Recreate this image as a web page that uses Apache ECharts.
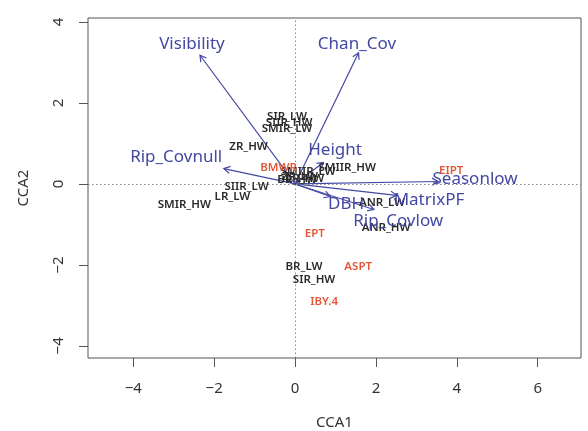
<!DOCTYPE html>
<html><head><meta charset="utf-8">
<script src="https://cdn.jsdelivr.net/npm/echarts@6/dist/echarts.min.js"></script>
<style>html,body{margin:0;padding:0;background:#fff}#c{width:588px;height:431px}</style>
</head><body><div id="c"></div>
<script>
// Biplot arrows (environmental variables)
const arrowNames = ['Visibility','Chan_Cov','Rip_Covnull','Height','Seasonlow','MatrixPF','DBH','Rip_Covlow'];
const arrowX = [-2.35, 1.57, -1.76, 0.70, 3.54, 2.51, 0.87, 1.95];
const arrowY = [3.18, 3.24, 0.38, 0.53, 0.06, -0.28, -0.31, -0.63];
const arrowLabelX = [-2.55, 1.53, -2.94, 0.99, 4.45, 3.31, 1.26, 2.55];
const arrowLabelY = [3.46, 3.46, 0.65, 0.84, 0.13, -0.41, -0.51, -0.92];
// Sites (black)
const siteNames = ['SIR_LW','SIIR_HW','SMIR_LW','ZR_HW','SMIIR_HW','SMIIR_LW','ZR_LW','BR_HW','LR_HW','SIIR_LW','LR_LW','SMIR_HW','ANR_LW','ANR_HW','BR_LW','SIR_HW'];
const siteX = [-0.20, -0.15, -0.20, -1.15, 1.29, 0.32, 0.12, 0.05, 0.25, -1.20, -1.55, -2.74, 2.15, 2.25, 0.22, 0.47];
const siteY = [1.65, 1.51, 1.37, 0.91, 0.40, 0.30, 0.18, 0.11, 0.13, -0.06, -0.31, -0.51, -0.46, -1.08, -2.04, -2.36];
// Taxa / metrics (red)
const taxaNames = ['BMWR','EIPT','EPT','ASPT','IBY.4'];
const taxaX = [-0.41, 3.86, 0.49, 1.56, 0.72];
const taxaY = [0.40, 0.33, -1.23, -2.04, -2.90];
// Axis ticks
const xTicks = [-4, -2, 0, 2, 4, 6];
const yTicks = [-4, -2, 0, 2, 4];

const BLUE = '#4348a3';
const RED = '#e4573a';
const DARK = '#2a2a2a';
const fmt = v => String(v).replace('-', '\u2212');

function textSeries(names, xs, ys, color, font) {
  return {
    type: 'custom',
    coordinateSystem: 'cartesian2d',
    data: names.map((n, i) => [xs[i], ys[i], n]),
    encode: {x: 0, y: 1},
    silent: true,
    renderItem: function (params, api) {
      const p = api.coord([api.value(0), api.value(1)]);
      return {
        type: 'text', x: p[0], y: p[1],
        style: {text: names[params.dataIndex], fill: color, font: font, align: 'center', verticalAlign: 'middle'}
      };
    }
  };
}

const chart = echarts.init(document.getElementById('c'), null, {renderer: 'canvas'});
chart.setOption({
  animation: false,
  grid: {left: 88, top: 18, right: 7, bottom: 73, show: true, borderColor: '#555', borderWidth: 1, containLabel: false, outerBoundsMode: 'none'},
  xAxis: {
    type: 'value', min: -5.12, max: 7.07,
    splitLine: {show: false},
    axisLine: {show: false, onZero: false},
    axisTick: {show: true, length: 9, customValues: xTicks, lineStyle: {color: '#555'}},
    axisLabel: {customValues: xTicks, formatter: fmt, margin: 23, fontSize: 15, color: '#333', fontFamily: 'Noto Sans'},
    name: 'CCA1', nameLocation: 'middle', nameGap: 57,
    nameTextStyle: {fontSize: 15, color: '#333', fontFamily: 'Noto Sans'}
  },
  yAxis: {
    type: 'value', min: -4.30, max: 4.10,
    splitLine: {show: false},
    axisLine: {show: false, onZero: false},
    axisTick: {show: true, length: 9, customValues: yTicks, lineStyle: {color: '#555'}},
    axisLabel: {customValues: yTicks, formatter: fmt, rotate: 90, margin: 22, fontSize: 15, color: '#333', fontFamily: 'Noto Sans', align: 'center', verticalAlign: 'bottom'},
    name: 'CCA2', nameLocation: 'middle', nameGap: 57, nameRotate: 90,
    nameTextStyle: {fontSize: 15, color: '#333', fontFamily: 'Noto Sans'}
  },
  series: [
    {
      type: 'line', data: [], silent: true,
      markLine: {
        symbol: 'none', silent: true, label: {show: false},
        lineStyle: {type: [1.5, 2.5], color: '#888', width: 1},
        data: [{xAxis: 0}, {yAxis: 0}]
      }
    },
    {
      type: 'custom',
      coordinateSystem: 'cartesian2d',
      data: arrowNames.map((n, i) => [arrowX[i], arrowY[i]]),
      encode: {x: 0, y: 1},
      silent: true,
      renderItem: function (params, api) {
        const o = api.coord([0, 0]);
        const e = api.coord([api.value(0), api.value(1)]);
        const ang = Math.atan2(e[1] - o[1], e[0] - o[0]);
        const L = 7, a = Math.PI / 6;
        const h1 = [e[0] - L * Math.cos(ang - a), e[1] - L * Math.sin(ang - a)];
        const h2 = [e[0] - L * Math.cos(ang + a), e[1] - L * Math.sin(ang + a)];
        const st = {stroke: BLUE, lineWidth: 1.2, fill: null};
        return {
          type: 'group', children: [
            {type: 'line', shape: {x1: o[0], y1: o[1], x2: e[0], y2: e[1]}, style: st},
            {type: 'polyline', shape: {points: [h1, e, h2]}, style: st}
          ]
        };
      }
    },
    textSeries(siteNames, siteX, siteY, DARK, '600 11.5px "Noto Sans"'),
    textSeries(taxaNames, taxaX, taxaY, RED, '600 11.5px "Noto Sans"'),
    textSeries(arrowNames, arrowLabelX, arrowLabelY, BLUE, '17px "Noto Sans"')
  ]
});
</script></body></html>
